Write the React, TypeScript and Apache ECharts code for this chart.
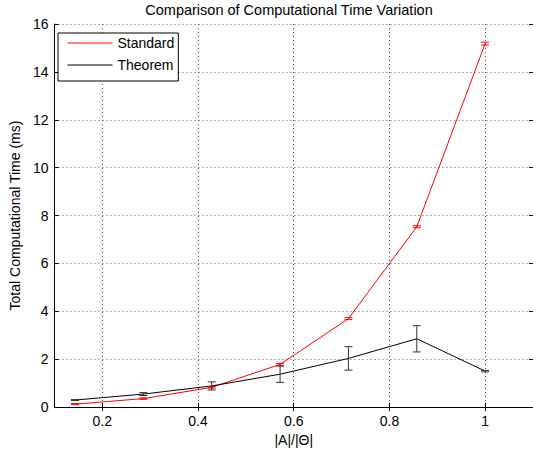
import React, { useEffect, useRef } from "react";
import * as echarts from "echarts";

const xValues = [1 / 7, 2 / 7, 3 / 7, 4 / 7, 5 / 7, 6 / 7, 1];
const standardMean = [0.12, 0.35, 0.82, 1.78, 3.69, 7.53, 15.18];
const standardErr = [0.02, 0.03, 0.03, 0.04, 0.04, 0.04, 0.06];
const theoremMean = [0.29, 0.54, 0.88, 1.37, 2.03, 2.85, 1.5];
const theoremErr = [0.02, 0.06, 0.17, 0.34, 0.49, 0.55, 0.03];
const xTicks = [0.2, 0.4, 0.6, 0.8, 1];

const FONT = "'Liberation Sans', Arial, sans-serif";

function errorSeries(name: string, means: number[], errs: number[], color: string) {
  return {
    type: "custom",
    name,
    z: 5,
    data: xValues.map((x, i) => [x, means[i] - errs[i], means[i] + errs[i]]),
    renderItem: (params: any, api: any) => {
      const x = api.value(0);
      const lo = api.coord([x, api.value(1)]);
      const hi = api.coord([x, api.value(2)]);
      const hw = 4;
      const style = { stroke: color, lineWidth: 1 };
      return {
        type: "group",
        children: [
          { type: "line", shape: { x1: lo[0], y1: lo[1], x2: hi[0], y2: hi[1] }, style },
          { type: "line", shape: { x1: lo[0] - hw, y1: lo[1], x2: lo[0] + hw, y2: lo[1] }, style },
          { type: "line", shape: { x1: hi[0] - hw, y1: hi[1], x2: hi[0] + hw, y2: hi[1] }, style },
        ],
      };
    },
  };
}

export default function App() {
  const ref = useRef<HTMLDivElement>(null);
  useEffect(() => {
    if (!ref.current) return;
    const chart = echarts.init(ref.current, undefined, { renderer: "svg" });
    const axisLine = { show: true, lineStyle: { color: "#000", width: 1 } };
    const grid = { show: true, lineStyle: { color: "#555", type: [1, 3], width: 1 } };
    chart.setOption({
      animation: false,
      backgroundColor: "#fff",
      textStyle: { fontFamily: FONT },
      graphic: [
        {
          type: "text",
          x: 289,
          y: 2,
          style: {
            text: "Comparison of Computational Time Variation",
            fill: "#000",
            font: `14.5px ${FONT}`,
            textAlign: "center",
            textVerticalAlign: "top",
          },
        },
      ],
      grid: { left: 51, right: -3, top: 24, bottom: 46, containLabel: false },
      legend: {
        data: ["Standard", "Theorem"],
        orient: "vertical",
        left: 58,
        top: 33,
        backgroundColor: "#fff",
        borderColor: "#000",
        borderWidth: 1,
        borderRadius: 0,
        padding: [2, 4, 8, 9],
        itemWidth: 45,
        itemHeight: 20,
        itemGap: 6,
        itemStyle: { color: "rgba(0,0,0,0)", borderColor: "rgba(0,0,0,0)", borderWidth: 0, opacity: 0 },
        lineStyle: { width: 1 },
        textStyle: { fontSize: 14, color: "#000", fontFamily: FONT, padding: [0, 0, 0, 0] },
      },
      xAxis: [
        {
          type: "value",
          min: 0.1,
          max: 1.1,
          position: "bottom",
          name: "|A|/|Θ|",
          nameLocation: "middle",
          nameGap: 24,
          nameTextStyle: { fontSize: 14, color: "#000", fontFamily: FONT },
          axisLine,
          axisTick: { show: true, inside: true, length: 4, lineStyle: { color: "#000" }, customValues: xTicks },
          axisLabel: { show: true, fontSize: 14, color: "#000", margin: 7, customValues: xTicks, fontFamily: FONT },
          splitLine: grid,
        },
        {
          type: "value",
          min: 0.1,
          max: 1.1,
          position: "top",
          axisLine,
          axisTick: { show: true, inside: true, length: 4, lineStyle: { color: "#000" }, customValues: xTicks },
          axisLabel: { show: false, customValues: xTicks },
          splitLine: { show: false },
        },
      ],
      yAxis: [
        {
          type: "value",
          min: 0,
          max: 16,
          interval: 2,
          position: "left",
          name: "Total Computational Time (ms)",
          nameLocation: "middle",
          nameGap: 28,
          nameTextStyle: { fontSize: 14, color: "#000", fontFamily: FONT },
          axisLine,
          axisTick: { show: true, inside: true, length: 4, lineStyle: { color: "#000" } },
          axisLabel: { show: true, fontSize: 14, color: "#000", margin: 6, fontFamily: FONT },
          splitLine: grid,
        },
        {
          type: "value",
          min: 0,
          max: 16,
          interval: 2,
          position: "right",
          axisLine,
          axisTick: { show: true, inside: true, length: 4, lineStyle: { color: "#000" } },
          axisLabel: { show: false },
          splitLine: { show: false },
        },
      ],
      series: [
        {
          type: "line",
          name: "Standard",
          data: xValues.map((x, i) => [x, standardMean[i]]),
          symbol: "none",
          lineStyle: { color: "#ff0000", width: 1 },
          itemStyle: { color: "#ff0000" },
          z: 3,
        },
        {
          type: "line",
          name: "Theorem",
          data: xValues.map((x, i) => [x, theoremMean[i]]),
          symbol: "none",
          lineStyle: { color: "#000", width: 1 },
          itemStyle: { color: "#000" },
          z: 3,
        },
        errorSeries("StandardErr", standardMean, standardErr, "#ff0000"),
        errorSeries("TheoremErr", theoremMean, theoremErr, "#333"),
      ],
    });
    return () => chart.dispose();
  }, []);
  return (
    <div
      ref={ref}
      style={{ position: "absolute", left: 0, top: 0, width: 533, height: 453 }}
    />
  );
}
